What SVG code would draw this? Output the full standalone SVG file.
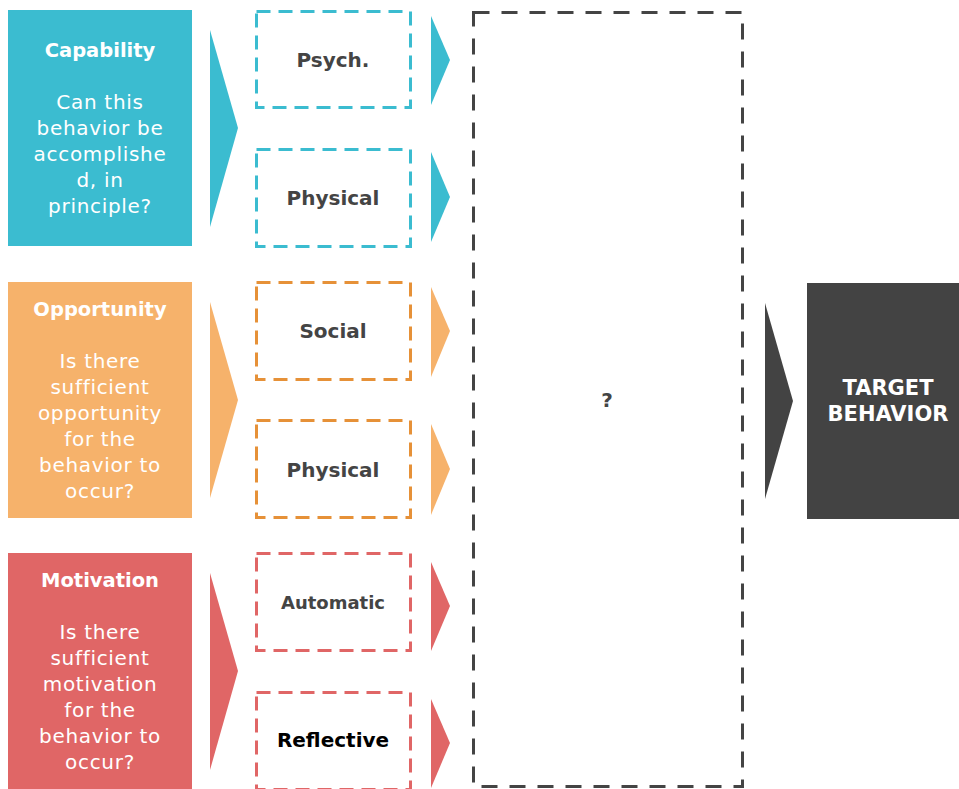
<svg xmlns="http://www.w3.org/2000/svg" width="959" height="789" viewBox="0 0 959 789">
<style>
text{font-family:"DejaVu Sans","Open Sans","Liberation Sans",sans-serif;text-anchor:middle}
.t{font-weight:700;font-size:19.5px;fill:#fff}
.b{font-size:20px;letter-spacing:0.7px;fill:#fff}
.l{font-weight:700;font-size:20px;fill:#444}
.d{fill:none;stroke-width:3;stroke-dasharray:14 8}
</style>
<rect width="959" height="789" fill="#fff"/>
<g id="capability">
<rect x="8" y="10" width="184" height="236" fill="#3BBCD0"/>
<text class="t" x="100" y="57">Capability</text>
<text class="b" x="100" y="109">Can this</text>
<text class="b" x="100" y="135">behavior be</text>
<text class="b" x="100" y="161">accomplishe</text>
<text class="b" x="100" y="187">d, in</text>
<text class="b" x="100" y="213">principle?</text>
</g>
<g id="opportunity">
<rect x="8" y="282" width="184" height="236" fill="#F6B26B"/>
<text class="t" x="100" y="316">Opportunity</text>
<text class="b" x="100" y="368">Is there</text>
<text class="b" x="100" y="394">sufficient</text>
<text class="b" x="100" y="420">opportunity</text>
<text class="b" x="100" y="446">for the</text>
<text class="b" x="100" y="472">behavior to</text>
<text class="b" x="100" y="498">occur?</text>
</g>
<g id="motivation">
<rect x="8" y="553" width="184" height="236" fill="#E06666"/>
<text class="t" x="100" y="587">Motivation</text>
<text class="b" x="100" y="639">Is there</text>
<text class="b" x="100" y="665">sufficient</text>
<text class="b" x="100" y="691">motivation</text>
<text class="b" x="100" y="717">for the</text>
<text class="b" x="100" y="743">behavior to</text>
<text class="b" x="100" y="769">occur?</text>
</g>
<g id="psych">
<rect class="d" x="256.5" y="11.5" width="154" height="96" stroke="#3BBCD0"/>
<text class="l" x="333" y="67">Psych.</text>
</g>
<g id="physical-cap">
<rect class="d" x="256.5" y="149.5" width="154" height="97" stroke="#3BBCD0"/>
<text class="l" x="333" y="205">Physical</text>
</g>
<g id="social">
<rect class="d" x="256.5" y="282.5" width="154" height="97" stroke="#E69138"/>
<text class="l" x="333" y="338">Social</text>
</g>
<g id="physical-opp">
<rect class="d" x="256.5" y="420.5" width="154" height="97" stroke="#E69138"/>
<text class="l" x="333" y="477">Physical</text>
</g>
<g id="automatic">
<rect class="d" x="256.5" y="553.5" width="154" height="97" stroke="#E06666"/>
<text class="l" x="333" y="609" style="font-size:18px">Automatic</text>
</g>
<g id="reflective">
<rect class="d" x="256.5" y="692.5" width="154" height="97" stroke="#E06666"/>
<text class="l" x="333" y="747" style="fill:#000">Reflective</text>
</g>
<g id="middle">
<rect x="473.5" y="12.5" width="269" height="774" fill="none" stroke="#444" stroke-width="3" stroke-dasharray="16 12"/>
<text class="l" x="607" y="407">?</text>
</g>
<g id="target">
<rect x="807" y="283" width="152" height="236" fill="#434343"/>
<text class="t" x="888" y="395" style="font-size:21px">TARGET</text>
<text class="t" x="888" y="421" style="font-size:21px">BEHAVIOR</text>
</g>
<g id="connectors">
<polygon points="210,30 238,128 210,227" fill="#3BBCD0"/>
<polygon points="210,302 238,400 210,498" fill="#F6B26B"/>
<polygon points="210,573 238,671 210,770" fill="#E06666"/>
<polygon points="431,16 450,60 431,105" fill="#3BBCD0"/>
<polygon points="431,152 450,197 431,242" fill="#3BBCD0"/>
<polygon points="431,287 450,331 431,377" fill="#F6B26B"/>
<polygon points="431,424 450,469 431,515" fill="#F6B26B"/>
<polygon points="431,562 450,606 431,651" fill="#E06666"/>
<polygon points="431,699 450,743 431,788" fill="#E06666"/>
<polygon points="765,303 793,401 765,499" fill="#434343"/>
</g>
</svg>
